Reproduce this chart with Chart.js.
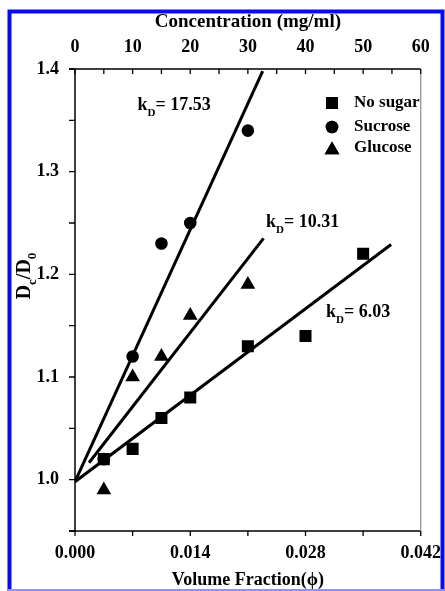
<!DOCTYPE html>
<html><head><meta charset="utf-8">
<script src="https://cdn.jsdelivr.net/npm/chart.js@4"></script>
<style>html,body{margin:0;padding:0;background:#fff;} canvas{display:block;}</style>
</head><body>
<canvas id="c" width="445" height="591"></canvas>
<script>
// ---- data ----
const noSugarX = [0.0035, 0.007, 0.0105, 0.014, 0.021, 0.028, 0.035];
const noSugarY = [1.02, 1.03, 1.06, 1.08, 1.13, 1.14, 1.22];
const sucroseX = [0.0035, 0.007, 0.0105, 0.014, 0.021];
const sucroseY = [1.02, 1.12, 1.23, 1.25, 1.34];
const glucoseX = [0.0035, 0.007, 0.0105, 0.014, 0.021];
const glucoseY = [0.99, 1.10, 1.12, 1.16, 1.19];
// fitted lines (endpoints)
const fitNoSugarX = [0, 0.0384];
const fitNoSugarY = [0.998, 1.229];
const fitSucroseX = [0, 0.0228];
const fitSucroseY = [0.998, 1.398];
const fitGlucoseX = [0.0017, 0.0229];
const fitGlucoseY = [1.0165, 1.235];
// axis ticks
const yTicks = [1.0, 1.1, 1.2, 1.3, 1.4];
const yMinorTicks = [0.95, 1.05, 1.15, 1.25, 1.35];
const phiTicks = [0, 0.014, 0.028, 0.042];
const phiMinorTicks = [0.007, 0.021, 0.035];
const concTicks = [0, 10, 20, 30, 40, 50, 60];
const concMinorTicks = [5, 15, 25, 35, 45, 55];
// annotations
const kdLabels = ['17.53', '10.31', '6.03'];
const kdPosX = [0.0076, 0.0232, 0.0305];
const kdPosY = [1.365, 1.2505, 1.163];
const seriesNames = ['No sugar', 'Sucrose', 'Glucose'];

const SERIF = '"Liberation Serif", "Times New Roman", "DejaVu Serif", serif';
const pts = (xs, ys) => xs.map((x, i) => ({x, y: ys[i]}));

const framePlugin = {
  id: 'frame',
  afterDraw(chart) {
    const ctx = chart.ctx;
    const {left, right, top, bottom} = chart.chartArea;
    const sx = chart.scales.x, sx2 = chart.scales.x2, sy = chart.scales.y;
    ctx.save();
    // blue frame
    ctx.strokeStyle = '#0a0af0';
    ctx.lineWidth = 4;
    ctx.beginPath();
    ctx.moveTo(9.5, 591); ctx.lineTo(9.5, 11.5); ctx.lineTo(442.5, 11.5); ctx.lineTo(442.5, 591);
    ctx.stroke();
    ctx.strokeStyle = '#9090ff';
    ctx.lineWidth = 2;
    ctx.beginPath(); ctx.moveTo(8, 590); ctx.lineTo(444, 590); ctx.stroke();

    // axes
    ctx.strokeStyle = '#000';
    ctx.lineWidth = 1.5;
    ctx.beginPath();
    ctx.moveTo(left, top); ctx.lineTo(left, bottom);
    ctx.moveTo(left - 6, top); ctx.lineTo(right, top);
    ctx.moveTo(left - 6, bottom); ctx.lineTo(right, bottom);
    ctx.stroke();
    ctx.strokeStyle = '#8a8a8a';
    ctx.lineWidth = 1.2;
    ctx.beginPath(); ctx.moveTo(right, top + 4); ctx.lineTo(right, bottom); ctx.stroke();

    ctx.strokeStyle = '#000';
    ctx.lineWidth = 1.3;
    ctx.beginPath();
    yTicks.concat(yMinorTicks).forEach(v => {
      const p = sy.getPixelForValue(v);
      ctx.moveTo(left - 6, p); ctx.lineTo(left, p);
    });
    concTicks.concat(concMinorTicks).forEach(v => {
      const p = sx2.getPixelForValue(v);
      ctx.moveTo(p, top); ctx.lineTo(p, top + 5);
    });
    phiTicks.concat(phiMinorTicks).forEach(v => {
      const p = sx.getPixelForValue(v);
      ctx.moveTo(p, bottom); ctx.lineTo(p, bottom + 5);
    });
    ctx.stroke();

    // kD labels
    ctx.fillStyle = '#000';
    ctx.textBaseline = 'alphabetic';
    ctx.textAlign = 'left';
    kdLabels.forEach((lab, i) => {
      let x = sx.getPixelForValue(kdPosX[i]);
      const y = sy.getPixelForValue(kdPosY[i]) + 5;
      ctx.font = 'bold 18px ' + SERIF;
      ctx.fillText('k', x, y); x += ctx.measureText('k').width;
      ctx.font = 'bold 11px ' + SERIF;
      ctx.fillText('D', x, y + 6); x += ctx.measureText('D').width;
      ctx.font = 'bold 18px ' + SERIF;
      ctx.fillText('= ' + lab, x, y);
    });

    // y title D_c/D_0
    ctx.save();
    ctx.translate(24, 276);
    ctx.rotate(-Math.PI / 2);
    const parts = [['D', 0], ['c', 1], ['/', 0], ['D', 0], ['0', 1]];
    const fontFor = s => s ? 'bold 13px ' + SERIF : 'bold 20px ' + SERIF;
    let w = 0;
    parts.forEach(([t, s]) => { ctx.font = fontFor(s); w += ctx.measureText(t).width; });
    let xx = -w / 2;
    parts.forEach(([t, s]) => {
      ctx.font = fontFor(s);
      ctx.fillText(t, xx, s ? 6 + 6 : 6);
      xx += ctx.measureText(t).width;
    });
    ctx.restore();

    // legend
    const styles = ['rect', 'circle', 'triangle'];
    const radii = [8.5, 6.3, 8.5];
    const rows = [103, 127, 148];
    seriesNames.forEach((name, i) => {
      Chart.helpers.drawPoint(ctx, {pointStyle: styles[i], radius: radii[i], borderWidth: 0, rotation: 0},
        left + 257, rows[i] + (i === 2 ? 2 : 0));
      ctx.fillStyle = '#000';
      ctx.fill();
      ctx.font = 'bold 17px ' + SERIF;
      ctx.textBaseline = 'middle';
      ctx.fillText(name, left + 279, rows[i]);
    });
    ctx.restore();
  }
};

const tickFont = {family: SERIF, size: 18, weight: 'bold'};
new Chart(document.getElementById('c'), {
  type: 'scatter',
  data: {
    datasets: [
      {label: 'No sugar fit', data: pts(fitNoSugarX, fitNoSugarY), showLine: true, borderColor: '#000', borderWidth: 3, pointRadius: 0},
      {label: 'Sucrose fit', data: pts(fitSucroseX, fitSucroseY), showLine: true, borderColor: '#000', borderWidth: 3, pointRadius: 0},
      {label: 'Glucose fit', data: pts(fitGlucoseX, fitGlucoseY), showLine: true, borderColor: '#000', borderWidth: 3, pointRadius: 0},
      {label: 'Sucrose', data: pts(sucroseX, sucroseY), pointStyle: 'circle', pointRadius: 6.3, backgroundColor: '#000', borderWidth: 0},
      {label: 'No sugar', data: pts(noSugarX, noSugarY), pointStyle: 'rect', pointRadius: 8.5, backgroundColor: '#000', borderWidth: 0},
      {label: 'Glucose', data: pts(glucoseX, glucoseY), pointStyle: 'triangle', pointRadius: 8.5, backgroundColor: '#000', borderWidth: 0}
    ]
  },
  options: {
    responsive: false,
    animation: false,
    layout: {padding: {left: 0, right: 23, top: 0, bottom: 0}},
    plugins: {legend: {display: false}, tooltip: {enabled: false}},
    scales: {
      x: {
        type: 'linear', position: 'bottom', min: 0, max: 0.042,
        afterBuildTicks: s => { s.ticks = phiTicks.map(v => ({value: v})); },
        afterFit: s => { s.height = 60; },
        grid: {display: false}, border: {display: false},
        ticks: {font: tickFont, color: '#000', padding: 4, maxRotation: 0, autoSkip: false,
          callback: v => v.toFixed(3)},
        title: {display: true, text: 'Volume Fraction(ϕ)', font: {family: SERIF, size: 18, weight: 'bold'}, color: '#000', padding: {top: 0, bottom: 0}}
      },
      x2: {
        type: 'linear', position: 'top', min: 0, max: 60,
        afterBuildTicks: s => { s.ticks = concTicks.map(v => ({value: v})); },
        afterFit: s => { s.height = 69; },
        grid: {display: false}, border: {display: false},
        ticks: {font: tickFont, color: '#000', padding: 3, maxRotation: 0, autoSkip: false},
        title: {display: true, text: 'Concentration (mg/ml)', font: {family: SERIF, size: 19, weight: 'bold'}, color: '#000', padding: {top: 11, bottom: 0}}
      },
      y: {
        type: 'linear', position: 'left', min: 0.95, max: 1.4,
        afterBuildTicks: s => { s.ticks = yTicks.map(v => ({value: v})); },
        afterFit: s => { s.width = 75; },
        grid: {display: false}, border: {display: false},
        ticks: {font: tickFont, color: '#000', padding: 8, callback: v => v.toFixed(1)}
      }
    }
  },
  plugins: [framePlugin]
});
</script>
</body></html>
